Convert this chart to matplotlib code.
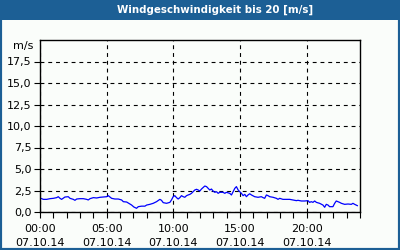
import matplotlib
matplotlib.use("Agg")
import matplotlib.pyplot as plt
from matplotlib.patches import Rectangle
from matplotlib.ticker import MultipleLocator

title = "Windgeschwindigkeit bis 20 [m/s]"
unit = "m/s"
hours = [0.07, 0.25, 0.5, 0.75, 1.0, 1.25, 1.37, 1.5, 1.62, 1.87, 2.12, 2.25, 2.5, 2.62, 2.75, 3.0,
         3.25, 3.5, 3.62, 3.75, 4.0, 4.25, 4.5, 4.75, 5.0, 5.12, 5.25, 5.37, 5.62, 5.87, 6.12, 6.25,
         6.5, 6.62, 6.87, 7.04, 7.24, 7.37, 7.62, 7.87, 8.0, 8.24, 8.49, 8.74, 8.99, 9.11, 9.24,
         9.49, 9.74, 9.86, 9.99, 10.11, 10.24, 10.36, 10.49, 10.61, 10.74, 10.86, 10.99, 11.11,
         11.24, 11.36, 11.48, 11.61, 11.74, 11.86, 11.99, 12.11, 12.36, 12.49, 12.61, 12.73, 12.86,
         12.98, 13.11, 13.24, 13.36, 13.48, 13.73, 13.86, 13.98, 14.23, 14.36, 14.48, 14.61, 14.73,
         14.86, 14.98, 15.11, 15.23, 15.36, 15.48, 15.6, 15.73, 15.86, 16.1, 16.35, 16.6, 16.73,
         16.85, 16.98, 17.1, 17.23, 17.48, 17.73, 17.85, 17.98, 18.22, 18.47, 18.73, 18.97, 19.23,
         19.35, 19.6, 19.85, 20.1, 20.22, 20.35, 20.47, 20.6, 20.73, 20.97, 21.22, 21.35, 21.47,
         21.6, 21.72, 21.97, 22.1, 22.22, 22.47, 22.6, 22.85, 23.1, 23.35, 23.47, 23.6, 23.8]
speed = [1.59, 1.47, 1.47, 1.55, 1.59, 1.67, 1.78, 1.59, 1.47, 1.74, 1.78, 1.59, 1.47, 1.36, 1.51, 1.55,
         1.55, 1.47, 1.40, 1.55, 1.67, 1.63, 1.71, 1.74, 1.78, 1.90, 1.74, 1.59, 1.51, 1.51, 1.40, 1.20,
         1.16, 1.05, 0.81, 0.58, 0.43, 0.62, 0.68, 0.68, 0.81, 0.89, 1.01, 1.20, 1.47, 1.36, 1.09,
         1.01, 1.12, 1.40, 1.78, 1.90, 1.67, 1.51, 1.67, 1.90, 1.78, 1.71, 1.90, 1.98,
         2.05, 2.17, 2.36, 2.56, 2.64, 2.56, 2.44, 2.67, 3.02, 2.95, 2.75, 2.56, 2.67,
         2.44, 2.29, 2.36, 2.17, 2.29, 2.29, 2.17, 2.29, 2.17, 1.98, 2.36, 2.75, 2.95,
         2.56, 2.36, 2.17, 1.90, 2.05, 1.78, 1.98, 2.12, 1.98, 1.78, 1.71, 1.78, 1.67,
         1.59, 1.98, 1.90, 1.78, 1.71, 1.59, 1.47, 1.59, 1.47, 1.47, 1.47, 1.40, 1.32,
         1.36, 1.28, 1.28, 1.32, 1.12, 1.20, 1.12, 1.28, 1.12, 1.01, 0.81, 0.55, 0.89,
         0.81, 0.62, 0.62, 1.01, 1.28, 1.12, 1.01, 0.89, 0.93, 0.89, 1.01, 0.89, 0.74]
x_ticks = [0, 5, 10, 15, 20]
x_labels = ["00:00\n07.10.14", "05:00\n07.10.14", "10:00\n07.10.14", "15:00\n07.10.14", "20:00\n07.10.14"]
y_ticks = [0, 2.5, 5.0, 7.5, 10.0, 12.5, 15.0, 17.5]
y_labels = ["0,0", "2,5", "5,0", "7,5", "10,0", "12,5", "15,0", "17,5"]

bg = "#FAFDFA"
blue = "#1C5F95"

fig = plt.figure(figsize=(4, 2.5), dpi=100, facecolor=bg)
ax = fig.add_axes([40/400, 38/250, 320/400, 172/250])
ax.set_facecolor(bg)

ax.plot(hours, speed, color="#0000FF", lw=0.9)
ax.set_xlim(0, 24)
ax.set_ylim(0, 20)
ax.set_xticks(x_ticks)
ax.set_xticklabels(x_labels, fontsize=8, linespacing=1.45)
ax.xaxis.set_minor_locator(MultipleLocator(1))
ax.set_yticks(y_ticks)
ax.set_yticklabels(y_labels, fontsize=8)
ax.tick_params(axis="both", which="both", direction="out", length=4, width=0.8, color="black", pad=2)
ax.tick_params(axis="x", which="major", pad=5)
for s in ax.spines.values():
    s.set_linewidth(1.0)
    s.set_color("black")
ax.grid(True, which="major", color="black", linestyle=(0, (3.5, 3.5)), linewidth=0.8)

fig.text(33/400, 1 - 46/250, unit, fontsize=8, ha="right", va="center")

# title bar and border
fig.patches.append(Rectangle((0, 230/250), 1, 20/250, transform=fig.transFigure,
                             facecolor=blue, edgecolor="none", zorder=0))
fig.patches.append(Rectangle((0, 0), 1, 1, transform=fig.transFigure,
                             facecolor="none", edgecolor=blue, linewidth=3.0, zorder=5))
fig.text(215/400, 1 - 10/250, title, fontsize=7.4, fontweight="bold", color="white",
         ha="center", va="center")

fig.savefig("out.png", dpi=100, facecolor=bg)
